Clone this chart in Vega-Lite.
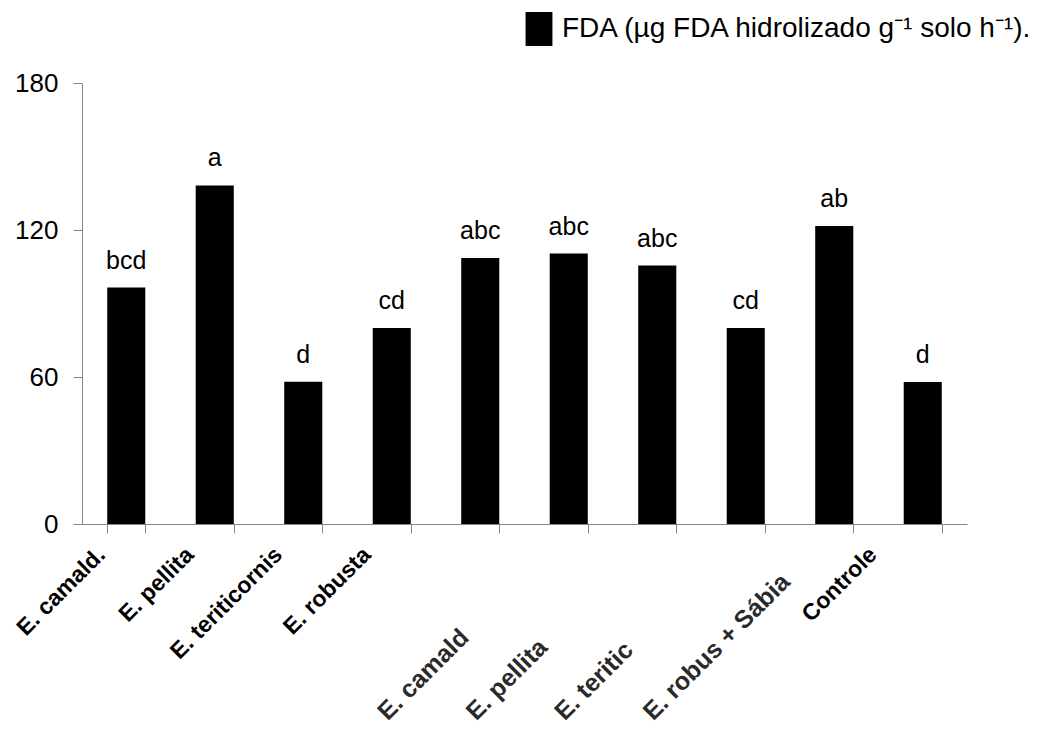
{
  "$schema": "https://vega.github.io/schema/vega-lite/v6.json",
  "width": 885,
  "height": 441,
  "autosize": {"type": "none"},
  "padding": {"left": 82, "top": 83, "right": 81, "bottom": 207},
  "background": "white",
  "config": {"view": {"stroke": null}, "font": "Liberation Sans"},
  "data": {"values": [
    {"tratamento": "E. camald.", "FDA": 96.5, "letra": "bcd"},
    {"tratamento": "E. pellita", "FDA": 138.2, "letra": "a"},
    {"tratamento": "E. teriticornis", "FDA": 58.1, "letra": "d"},
    {"tratamento": "E. robusta", "FDA": 80.0, "letra": "cd"},
    {"tratamento": "E. camald", "FDA": 108.6, "letra": "abc"},
    {"tratamento": "E. pellita ", "FDA": 110.4, "letra": "abc"},
    {"tratamento": "E. teritic", "FDA": 105.5, "letra": "abc"},
    {"tratamento": "E. robus + Sábia", "FDA": 80.0, "letra": "cd"},
    {"tratamento": " ", "FDA": 121.6, "letra": "ab"},
    {"tratamento": "Controle", "FDA": 58.0, "letra": "d"}
  ]},
  "encoding": {
    "x": {
      "field": "tratamento",
      "type": "nominal",
      "sort": null,
      "scale": {"paddingInner": 0.57, "paddingOuter": 0.285},
      "axis": {
        "title": null,
        "tickBand": "extent",
        "domainColor": "#868686",
        "tickColor": "#868686",
        "tickSize": 9,
        "labelAngle": -45,
        "labelFontSize": {"condition": {"test": "indexof(['E. camald','E. pellita ','E. teritic','E. robus + Sábia'], datum.value) >= 0", "value": 25}, "value": 23},
        "labelFontWeight": "bold",
        "labelColor": {"condition": {"test": "indexof(['E. camald','E. pellita ','E. teritic','E. robus + Sábia'], datum.value) >= 0", "value": "#2a2a2a"}, "value": "black"},
        "labelAlign": {"condition": {"test": "indexof(['E. camald','E. pellita ','E. teritic','E. robus + Sábia'], datum.value) >= 0", "value": "left"}, "value": "right"},
        "labelBaseline": {"condition": {"test": "indexof(['E. camald','E. pellita ','E. teritic','E. robus + Sábia'], datum.value) >= 0", "value": "alphabetic"}, "value": "top"},
        "labelOffset": {"condition": [
          {"test": "indexof(['E. camald','E. pellita ','E. teritic','E. robus + Sábia'], datum.value) >= 0", "value": -93},
          {"test": "datum.value == 'Controle'", "value": -58}
        ], "value": -33},
        "labelPadding": {"condition": {"test": "indexof(['E. camald','E. pellita ','E. teritic','E. robus + Sábia'], datum.value) >= 0", "value": 188}, "value": 10},
        "labelLimit": 400,
        "labelOverlap": false
      }
    },
    "y": {
      "field": "FDA",
      "type": "quantitative",
      "scale": {"domain": [0, 180], "nice": false},
      "axis": {
        "title": null,
        "values": [0, 60, 120, 180],
        "grid": false,
        "domainColor": "#868686",
        "tickColor": "#868686",
        "tickSize": 9,
        "labelFontSize": 26,
        "labelColor": "black",
        "labelPadding": 15
      }
    }
  },
  "layer": [
    {
      "mark": {"type": "bar", "stroke": null},
      "encoding": {
        "color": {
          "datum": "FDA (µg FDA hidrolizado g⁻¹ solo h⁻¹).",
          "type": "nominal",
          "scale": {"range": ["black"]},
          "legend": {
            "title": null,
            "orient": "none",
            "legendX": 440,
            "legendY": -71,
            "padding": 0,
            "symbolType": "M-0.79,-1H0.79V1H-0.79Z",
            "symbolSize": 1156,
            "symbolStrokeWidth": 0,
            "labelFontSize": 28,
            "labelColor": "black",
            "labelOffset": 6,
            "labelLimit": 700
          }
        }
      }
    },
    {
      "mark": {"type": "text", "dy": -19, "baseline": "alphabetic", "fontSize": 25, "color": "black"},
      "encoding": {"text": {"field": "letra"}}
    }
  ]
}
